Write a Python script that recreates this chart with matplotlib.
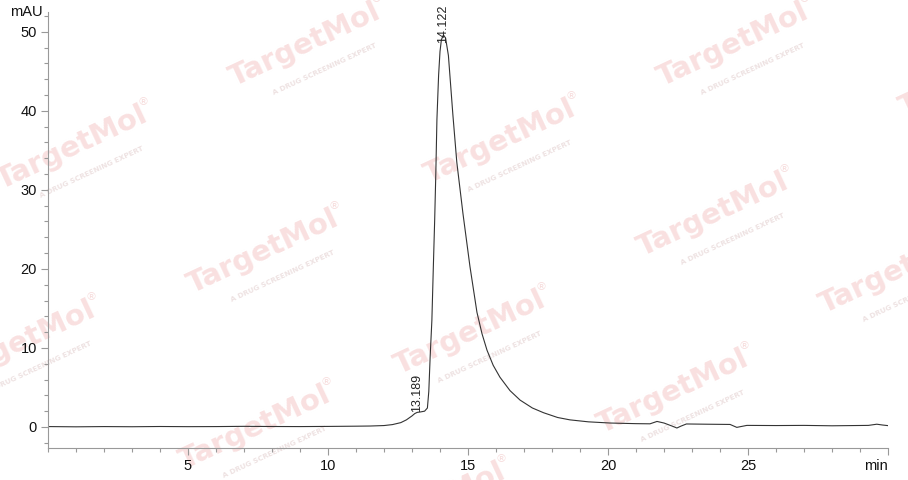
import numpy as np
import matplotlib
matplotlib.use("Agg")
import matplotlib.pyplot as plt
from matplotlib.ticker import MultipleLocator

# chromatogram points (time in min, signal in mAU)
rt = [0.03, 1.0, 2.0, 3.0, 4.0, 5.0, 6.0, 7.0, 8.0, 9.0, 10.0, 11.0, 11.5, 12.0,
      12.3, 12.6, 12.8, 13.0, 13.1, 13.189, 13.3, 13.45, 13.55, 13.6, 13.65, 13.71,
      13.76, 13.81, 13.85, 13.89, 13.95, 14.0, 14.05, 14.122, 14.2, 14.3, 14.46,
      14.6, 14.82, 15.07, 15.32, 15.5, 15.68, 15.9, 16.14, 16.5, 16.86, 17.3, 17.7,
      18.2, 18.64, 19.3, 20.07, 21.0, 21.5, 21.75, 22.0, 22.3, 22.46, 22.6, 22.8,
      23.5, 24.36, 24.6, 24.96, 26.0, 27.0, 28.0, 29.3, 29.6, 29.8, 30.0]
mau = [0.05, 0.02, 0.05, 0.03, 0.06, 0.04, 0.05, 0.08, 0.06, 0.05, 0.07, 0.1, 0.12, 0.18,
       0.3, 0.55, 0.9, 1.4, 1.7, 1.85, 1.9, 2.0, 2.4, 4.5, 9.0, 13.5,
       20.0, 26.2, 32.0, 38.9, 44.5, 47.5, 49.0, 49.6, 49.2, 47.0, 39.5,
       33.5, 27.0, 20.3, 14.5, 11.8, 9.7, 7.8, 6.3, 4.6, 3.4, 2.4, 1.8,
       1.2, 0.9, 0.65, 0.5, 0.42, 0.4, 0.7, 0.5, 0.1, -0.13, 0.1, 0.38,
       0.35, 0.32, -0.05, 0.2, 0.18, 0.2, 0.15, 0.2, 0.35, 0.25, 0.17]

peak_rt = [13.189, 14.122]
peak_lbl = ["13.189", "14.122"]
peak_y = [1.9, 48.6]

xticks = [5, 10, 15, 20, 25, 30]
xlabels = ["5", "10", "15", "20", "25", "min"]
yticks = [0, 10, 20, 30, 40, 50]

# watermark centres in pixel coords of the 908x480 image
wm_pos = [(305, 45), (733, 45), (72, 148), (500, 142), (713, 215), (263, 252),
          (895, 272), (20, 343), (470, 333), (673, 392), (255, 428),
          (975, 75), (430, 505), (950, 478)]

plt.rcParams['font.family'] = ['Liberation Sans', 'DejaVu Sans']

fig = plt.figure(figsize=(9.08, 4.8), dpi=100)
ax = fig.add_axes([48/908, 32/480, (888-48)/908, (448-12)/480])
ax.patch.set_visible(False)

# watermarks behind the axes
th = np.deg2rad(25)
for (px, py) in wm_pos:
    fx, fy = px/908, 1 - py/480
    fig.text(fx, fy, "TargetMol", fontsize=21, fontweight='bold', color='#f9e0e0',
             rotation=25, ha='center', va='center', zorder=-2, family='DejaVu Sans')
    # subtitle below the main text
    dx = 8*np.cos(th) + 30*np.sin(th)
    dy = 8*np.sin(th) - 30*np.cos(th)
    fig.text(fx + dx/908, fy + dy/480, "A DRUG SCREENING EXPERT", fontsize=5.2,
             color='#eee2e2', rotation=25, ha='center', va='center', zorder=-2,
             family='DejaVu Sans', fontweight='bold')
    sx = 84*np.cos(th) - 12*np.sin(th)
    sy = 84*np.sin(th) + 12*np.cos(th)
    fig.text(fx + sx/908, fy + sy/480, "®", fontsize=8, color='#f7dcdc',
             ha='center', va='center', zorder=-2, family='DejaVu Sans')

ax.plot(rt, mau, color='#333333', lw=0.8)

for x, lbl, y in zip(peak_rt, peak_lbl, peak_y):
    ax.text(x, y, lbl, rotation=90, ha='center', va='bottom', fontsize=9,
            color='#222222', clip_on=False)

ax.set_xlim(0, 30)
ax.set_ylim(-2.66, 52.5)
ax.set_xticks(xticks)
ax.set_xticklabels(xlabels)
ax.set_yticks(yticks)
ax.xaxis.set_minor_locator(MultipleLocator(1))
ax.yaxis.set_minor_locator(MultipleLocator(2))

for s in ['top', 'right']:
    ax.spines[s].set_visible(False)
for s in ['left', 'bottom']:
    ax.spines[s].set_color('#999999')
    ax.spines[s].set_linewidth(0.8)

ax.tick_params(which='major', length=5, width=0.8, color='#999999', labelsize=10.5,
               labelcolor='#111111', direction='out', pad=3)
ax.tick_params(which='minor', length=3, width=0.8, color='#999999', direction='out')
ax.get_xticklabels()[-1].set_horizontalalignment('right')
ax.get_xticklabels()[-1].set_x(30.25)

ax.text(-0.006, 1.0, "mAU", transform=ax.transAxes, ha='right', va='center',
        fontsize=10.5, color='#111111')

fig.savefig("out.png", dpi=100)
